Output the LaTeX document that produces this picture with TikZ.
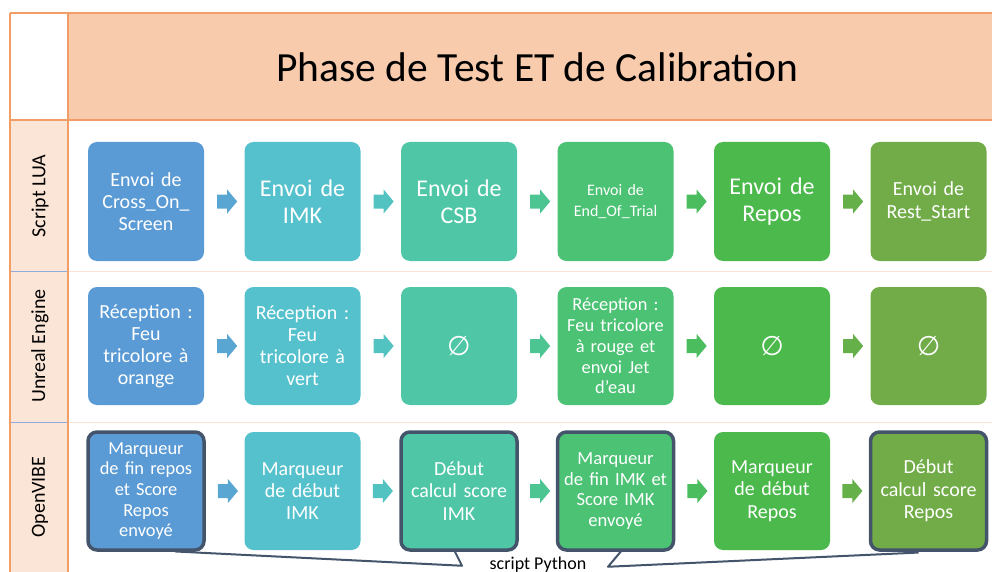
\documentclass[tikz,border=0pt]{standalone}
\usepackage{fontspec}
\setmainfont{Carlito}
\newfontfamily\djv{DejaVu Sans}
\usetikzlibrary{shapes.arrows,calc}
\definecolor{cA}{HTML}{5B9BD5}
\definecolor{cB}{HTML}{55C1CD}
\definecolor{cC}{HTML}{4FC7A7}
\definecolor{cD}{HTML}{4BC274}
\definecolor{cE}{HTML}{4BB94B}
\definecolor{cF}{HTML}{71AC48}
\definecolor{slate}{HTML}{44546A}
\definecolor{hdr}{HTML}{F8CBAD}
\definecolor{lcol}{HTML}{FBE5D6}
\definecolor{obord}{HTML}{F29D66}
\definecolor{bsep}{HTML}{8FAADC}
\definecolor{psep}{HTML}{FBE3D6}
\pgfdeclarelayer{bg}
\pgfdeclarelayer{mid}
\pgfsetlayers{bg,mid,main}
\newcommand{\fs}[2]{\fontsize{#1}{#2}\selectfont}
\begin{document}
\begin{tikzpicture}[x=1pt,y=-1pt,
  box/.style={rounded corners=9pt, minimum width=116pt, minimum height=118pt,
    text width=112pt, inner sep=0pt, align=center, text=white},
  hl/.style={draw=slate, line width=3.5pt},
  arr/.style={single arrow, single arrow head extend=5pt, single arrow tip angle=100,
    minimum height=20pt, inner xsep=0pt, inner ysep=6.8pt, draw=none},
  lab/.style={rotate=90, font=\fs{20}{24}},
  callout/.style={draw=slate, line width=2pt, line join=round}
]
\useasboundingbox (0,0) rectangle (992,572);

% table background
\begin{pgfonlayer}{bg}
  \fill[hdr] (68,13) rectangle (992,120);
  \fill[lcol] (10,120) rectangle (68,572);
  \draw[psep, line width=1pt] (68,271) -- (992,271) (68,422) -- (992,422);
  \draw[bsep, line width=1pt] (10,271) -- (68,271) (10,422) -- (68,422);
  \draw[obord, line width=1.5pt] (10,13) -- (992,13) (10,120) -- (992,120)
       (10,13) -- (10,572) (68,13) -- (68,572);
\end{pgfonlayer}

% title and row labels
\node[font=\fs{41.5}{48}, anchor=base] (title) at (537.5,82) {Phase de Test ET de Calibration};
\node[lab] (labA) at (40,196) {Script LUA};
\node[lab] (labB) at (40,346) {Unreal Engine};
\node[lab] (labC) at (40,497) {OpenVIBE};

% row 1
\node[box, fill=cA, minimum height=119pt, font=\fs{20}{22}] (r1c1) at (146,201.5) {Envoi de\\Cross\_On\_\\Screen};
\node[box, fill=cB, minimum height=119pt, font=\fs{24}{27}] (r1c2) at (302.5,201.5) {Envoi de\\IMK};
\node[box, fill=cC, minimum height=119pt, font=\fs{24}{27}] (r1c3) at (459,201.5) {Envoi de\\CSB};
\node[box, fill=cD, minimum height=119pt, font=\fs{16}{20.5}] (r1c4) at (615.5,201.5) {Envoi de\\End\_Of\_Trial};
\node[box, fill=cE, minimum height=119pt, font=\fs{24}{27}] (r1c5) at (772,201.5) {Envoi de\\Repos};
\node[box, fill=cF, minimum height=119pt, font=\fs{20}{22.7}] (r1c6) at (928.5,201.5) {Envoi de\\Rest\_Start};

% row 2
\node[box, fill=cA, font=\fs{20}{22}] (r2c1) at (146,346) {Réception :\\Feu\\tricolore à\\orange};
\node[box, fill=cB, font=\fs{20}{22}] (r2c2) at (302.5,346) {Réception :\\Feu\\tricolore à\\vert};
\node[box, fill=cC, font=\fs{27}{30}] (r2c3) at (459,346) {{\djv ∅}};
\node[box, fill=cD, font=\fs{18.4}{20.8}] (r2c4) at (615.5,346) {Réception :\\Feu tricolore\\à rouge et\\envoi Jet\\d’eau};
\node[box, fill=cE, font=\fs{27}{30}] (r2c5) at (772,346) {{\djv ∅}};
\node[box, fill=cF, font=\fs{27}{30}] (r2c6) at (928.5,346) {{\djv ∅}};

% row 3
\node[box, fill=cA, hl, font=\fs{18.4}{20.7}] (r3c1) at (146,491) {Marqueur\\de fin repos\\et Score\\Repos\\envoyé};
\node[box, fill=cB, font=\fs{20}{22}] (r3c2) at (302.5,491) {Marqueur\\de début\\IMK};
\node[box, fill=cC, hl, font=\fs{20}{22.5}] (r3c3) at (459,491) {Début\\calcul score\\IMK};
\node[box, fill=cD, hl, font=\fs{18.6}{20.5}] (r3c4) at (615.5,491) {Marqueur\\de fin IMK et\\Score IMK\\envoyé};
\node[box, fill=cE, font=\fs{20}{22.5}] (r3c5) at (772,491) {Marqueur\\de début\\Repos};
\node[box, fill=cF, hl, font=\fs{20}{22.5}] (r3c6) at (928.5,491) {Début\\calcul score\\Repos};

% block arrows
\foreach \r in {1,2,3}{
  \node[arr, fill=cA!70!cB] (a\r1) at ($(r\r c1.east)!0.5!(r\r c2.west)$) {};
  \node[arr, fill=cB!70!cC] (a\r2) at ($(r\r c2.east)!0.5!(r\r c3.west)$) {};
  \node[arr, fill=cC!60!cD] (a\r3) at ($(r\r c3.east)!0.5!(r\r c4.west)$) {};
  \node[arr, fill=cD!50!cE] (a\r4) at ($(r\r c4.east)!0.5!(r\r c5.west)$) {};
  \node[arr, fill=cE!30!cF] (a\r5) at ($(r\r c5.east)!0.5!(r\r c6.west)$) {};
}

% callout "script Python"
\node[font=\fs{18}{22}, anchor=base] (py) at (538,569) {script Python};
\begin{pgfonlayer}{mid}
  \draw[callout] ($(r3c1.south)+(29,-0.3)$) coordinate (k1)
      -- ($(r3c3.south)+(3,14)$) coordinate (k2)
      -- ($(r3c3.south)+(-6,-4)$) coordinate (k3);
  \draw[callout] ($(r3c4.south)+(8.5,-4)$) coordinate (k4)
      -- ($(r3c4.south)+(-7.5,15)$) coordinate (k5)
      -- ($(r3c6.south)+(-10,0.8)$) coordinate (k6);
\end{pgfonlayer}
\end{tikzpicture}
\end{document}
